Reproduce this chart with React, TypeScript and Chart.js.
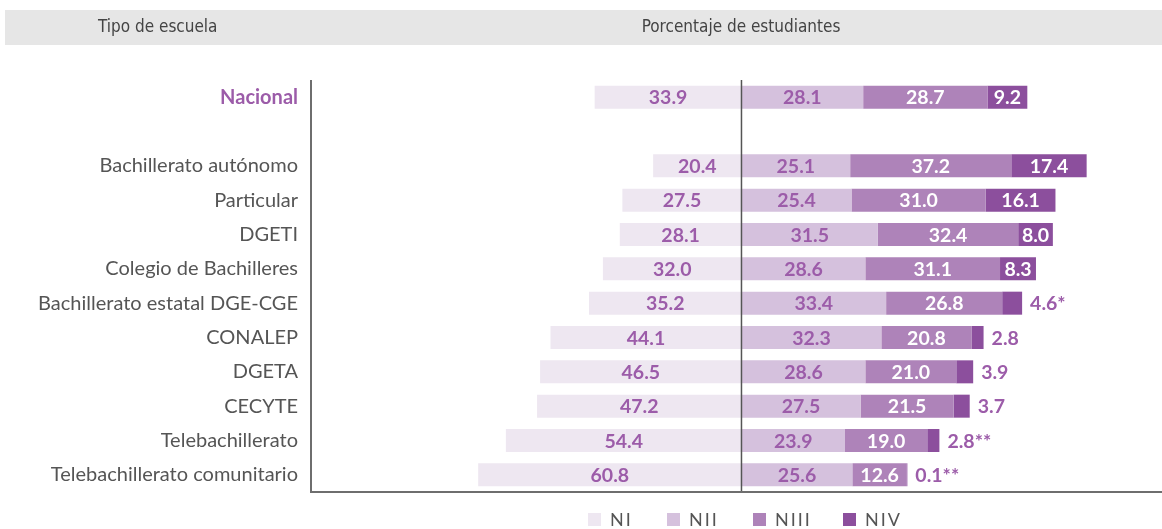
import React, { useEffect, useRef } from "react";
import { Chart, registerables } from "chart.js";

Chart.register(...registerables);

const categories = [
  "Nacional",
  "",
  "Bachillerato autónomo",
  "Particular",
  "DGETI",
  "Colegio de Bachilleres",
  "Bachillerato estatal DGE-CGE",
  "CONALEP",
  "DGETA",
  "CECYTE",
  "Telebachillerato",
  "Telebachillerato comunitario",
];
const seriesLabels = ["NI", "NII", "NIII", "NIV"];
const nI = [33.9, null, 20.4, 27.5, 28.1, 32.0, 35.2, 44.1, 46.5, 47.2, 54.4, 60.8];
const nII = [28.1, null, 25.1, 25.4, 31.5, 28.6, 33.4, 32.3, 28.6, 27.5, 23.9, 25.6];
const nIII = [28.7, null, 37.2, 31.0, 32.4, 31.1, 26.8, 20.8, 21.0, 21.5, 19.0, 12.6];
const nIV = [9.2, null, 17.4, 16.1, 8.0, 8.3, 4.6, 2.8, 3.9, 3.7, 2.8, 0.1];
const nIVNotes = ["", "", "", "", "", "", "*", "", "", "", "**", "**"];

const colors = ["#eee7f1", "#d5c1dd", "#ae83b9", "#8c4f9d"];
const labelColors = ["#9c5ca9", "#9c5ca9", "#ffffff", "#ffffff"];
const PURPLE = "#9c5ca9";
const FONT = "Lato, 'Open Sans', sans-serif";
const NARROW = "'Liberation Sans Narrow', 'DejaVu Sans Condensed', 'Roboto', sans-serif";
const legendX = [588, 667, 753, 843];

const decorPlugin = {
  id: "decor",
  beforeDraw(chart: any) {
    const { ctx } = chart;
    ctx.save();
    ctx.fillStyle = "#e6e6e6";
    ctx.fillRect(5, 10, 1157, 35);
    ctx.fillStyle = "#444";
    ctx.font = `17px ${NARROW}`;
    ctx.textBaseline = "middle";
    ctx.textAlign = "left";
    ctx.fillText("Tipo de escuela", 98, 28);
    ctx.textAlign = "center";
    ctx.fillText("Porcentaje de estudiantes", 741, 28);
    ctx.restore();
  },
  afterDatasetsDraw(chart: any) {
    const { ctx, chartArea } = chart;
    const xScale = chart.scales.x;
    ctx.save();
    chart.data.datasets.forEach((ds: any, di: number) => {
      const meta = chart.getDatasetMeta(di);
      meta.data.forEach((el: any, i: number) => {
        const raw = ds.data[i];
        if (raw === null || raw === undefined) return;
        const v = Math.abs(raw);
        const txt = v.toFixed(1);
        ctx.font = `bold 19.5px ${FONT}`;
        ctx.textBaseline = "middle";
        if (di === 3 && v < 5) {
          ctx.fillStyle = PURPLE;
          ctx.textAlign = "left";
          ctx.fillText(txt + nIVNotes[i], Math.max(el.x, el.base) + 8, el.y + 1);
        } else {
          ctx.fillStyle = labelColors[di];
          ctx.textAlign = "center";
          ctx.fillText(txt, (el.x + el.base) / 2, el.y + 1);
        }
      });
    });
    const x0 = xScale.getPixelForValue(0);
    ctx.strokeStyle = "#555";
    ctx.lineWidth = 1.5;
    ctx.beginPath();
    ctx.moveTo(x0, chartArea.top);
    ctx.lineTo(x0, chartArea.bottom);
    ctx.stroke();
    ctx.strokeStyle = "#6e6e6e";
    ctx.lineWidth = 2;
    ctx.beginPath();
    ctx.moveTo(chartArea.left, chartArea.top);
    ctx.lineTo(chartArea.left, chartArea.bottom);
    ctx.lineTo(chartArea.right, chartArea.bottom);
    ctx.stroke();
    const ly = 520;
    ctx.font = `18px ${FONT}`;
    (ctx as any).letterSpacing = "2px";
    ctx.textAlign = "left";
    ctx.textBaseline = "middle";
    chart.data.datasets.forEach((ds: any, di: number) => {
      const lx = legendX[di];
      ctx.fillStyle = colors[di];
      ctx.fillRect(lx, ly - 7, 13, 13);
      ctx.fillStyle = "#555";
      ctx.fillText(ds.label, lx + 22, ly);
    });
    (ctx as any).letterSpacing = "0px";
    ctx.restore();
  },
};

export default function App() {
  const ref = useRef<HTMLCanvasElement | null>(null);
  useEffect(() => {
    if (!ref.current) return;
    const series = [nI.map((v) => (v === null ? null : -v)), nII, nIII, nIV];
    const chart = new Chart(ref.current, {
      type: "bar",
      data: {
        labels: categories,
        datasets: series.map((d, i) => ({
          label: seriesLabels[i],
          data: d as any,
          backgroundColor: colors[i],
          borderWidth: 0,
          barPercentage: 0.67,
          categoryPercentage: 1,
        })),
      },
      options: {
        indexAxis: "y",
        responsive: false,
        animation: false,
        layout: { padding: { top: 80, bottom: 37, left: 0, right: 0 } },
        plugins: { legend: { display: false }, tooltip: { enabled: false } },
        scales: {
          x: {
            stacked: true,
            display: false,
            min: -99.4,
            max: 97.1,
          },
          y: {
            stacked: true,
            grid: { display: false, drawTicks: false },
            border: { display: false },
            ticks: {
              padding: 13,
              color: (c: any) => (c.index === 0 ? PURPLE : "#555"),
              font: (c: any) => ({
                family: FONT,
                size: 20,
                weight: c.index === 0 ? "bold" : "normal",
              }),
            },
            afterFit(scale: any) {
              scale.width = 311;
            },
          },
        },
      },
      plugins: [decorPlugin],
    });
    return () => chart.destroy();
  }, []);
  return (
    <div style={{ position: "absolute", left: 0, top: 0, width: 1162, height: 529, background: "#fff" }}>
      <canvas ref={ref} width={1162} height={529} style={{ width: 1162, height: 529 }} />
    </div>
  );
}
